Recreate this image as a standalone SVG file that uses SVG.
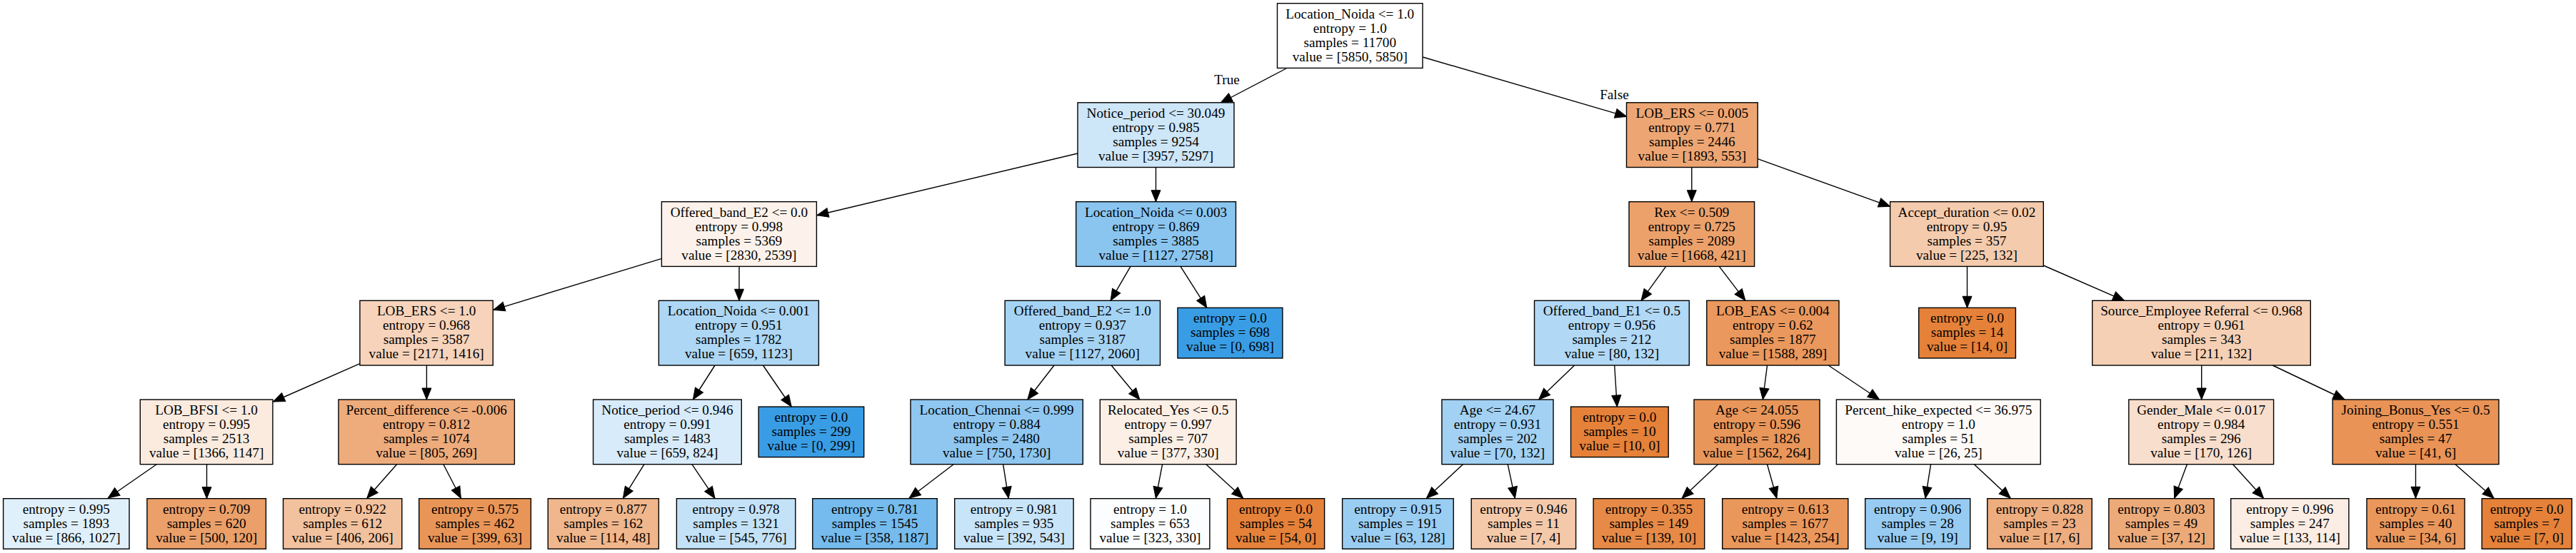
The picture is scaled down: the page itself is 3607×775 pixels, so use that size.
<svg xmlns="http://www.w3.org/2000/svg" width="3607" height="775" viewBox="0 0 3607 775">
<defs>
<style>
.box{stroke:#000;stroke-width:1.4}
.t{font-family:"Liberation Serif","Times New Roman",serif;font-size:19.2px;fill:#000;text-anchor:middle}
.edge{stroke:#000;stroke-width:1.4;fill:none;marker-end:url(#arr)}
</style>
<marker id="arr" markerUnits="userSpaceOnUse" markerWidth="18" markerHeight="15" viewBox="0 0 18 15" refX="17" refY="7.5" orient="auto">
<path d="M1,1 L17,7.5 L1,14 z" fill="#000" stroke="#000" stroke-width="1"/>
</marker>
</defs>
<rect x="0" y="0" width="3607" height="775" fill="#fff"/>
<g id="edges">
<line class="edge" x1="1801" y1="96" x2="1709.3" y2="144"/>
<line class="edge" x1="1992.3" y1="80" x2="2277.6" y2="163.3"/>
<line class="edge" x1="1509" y1="215" x2="1143.9" y2="301.7"/>
<line class="edge" x1="1618.5" y1="234.5" x2="1618.5" y2="282.7"/>
<line class="edge" x1="925.8" y1="362.7" x2="690.8" y2="434.3"/>
<line class="edge" x1="1035" y1="373.4" x2="1035" y2="421.3"/>
<line class="edge" x1="504.4" y1="509.3" x2="382.5" y2="563"/>
<line class="edge" x1="597.4" y1="512" x2="597.4" y2="560"/>
<line class="edge" x1="219.3" y1="650.7" x2="151.2" y2="698"/>
<line class="edge" x1="289.5" y1="650.7" x2="289.5" y2="698.7"/>
<line class="edge" x1="555.6" y1="650.7" x2="513.8" y2="698.3"/>
<line class="edge" x1="620.9" y1="650.7" x2="645.4" y2="698.3"/>
<line class="edge" x1="1001" y1="512" x2="970.4" y2="560"/>
<line class="edge" x1="1068.4" y1="512" x2="1108.2" y2="570"/>
<line class="edge" x1="902" y1="650.7" x2="872.4" y2="698.3"/>
<line class="edge" x1="968.9" y1="650.7" x2="1001" y2="698.3"/>
<line class="edge" x1="1583" y1="373.4" x2="1555.1" y2="421.3"/>
<line class="edge" x1="1653" y1="373.4" x2="1689.8" y2="431.3"/>
<line class="edge" x1="1476" y1="512" x2="1438.8" y2="560"/>
<line class="edge" x1="1556.1" y1="512" x2="1595.9" y2="560"/>
<line class="edge" x1="1335.2" y1="650.7" x2="1273" y2="698.3"/>
<line class="edge" x1="1404.6" y1="650.7" x2="1412.2" y2="698.3"/>
<line class="edge" x1="1627.6" y1="650.7" x2="1618.4" y2="698.3"/>
<line class="edge" x1="1688.8" y1="650.7" x2="1740.8" y2="698.3"/>
<line class="edge" x1="2368.8" y1="234.5" x2="2368.8" y2="282.7"/>
<line class="edge" x1="2461.2" y1="222.7" x2="2646.6" y2="289.3"/>
<line class="edge" x1="2332.7" y1="373.4" x2="2298" y2="421.3"/>
<line class="edge" x1="2407.3" y1="373.4" x2="2443.9" y2="421.3"/>
<line class="edge" x1="2204.6" y1="512" x2="2154.6" y2="560"/>
<line class="edge" x1="2260.7" y1="512" x2="2264.3" y2="570"/>
<line class="edge" x1="2048.5" y1="650.7" x2="1997.4" y2="698.3"/>
<line class="edge" x1="2111.2" y1="650.7" x2="2121.4" y2="698.3"/>
<line class="edge" x1="2474.5" y1="512" x2="2468.4" y2="560"/>
<line class="edge" x1="2560.2" y1="512" x2="2631.6" y2="560"/>
<line class="edge" x1="2405.6" y1="650.7" x2="2355.1" y2="698.3"/>
<line class="edge" x1="2474.5" y1="650.7" x2="2487.8" y2="698.3"/>
<line class="edge" x1="2703.6" y1="650.7" x2="2696" y2="698.3"/>
<line class="edge" x1="2764.3" y1="650.7" x2="2815.3" y2="698.3"/>
<line class="edge" x1="2754.5" y1="373.4" x2="2754.5" y2="431.3"/>
<line class="edge" x1="2861.3" y1="372" x2="2974.6" y2="421.3"/>
<line class="edge" x1="3082.7" y1="512" x2="3082.7" y2="560"/>
<line class="edge" x1="3182.2" y1="512" x2="3283.1" y2="560"/>
<line class="edge" x1="3062.4" y1="650.7" x2="3044.6" y2="698.3"/>
<line class="edge" x1="3126.6" y1="650.7" x2="3169.6" y2="698.3"/>
<line class="edge" x1="3382.5" y1="650.7" x2="3382.5" y2="698.3"/>
<line class="edge" x1="3438" y1="650.7" x2="3492.1" y2="698.3"/>
<text class="t" x="1718" y="117.5">True</text>
<text class="t" x="2260.4" y="138.5">False</text>
</g>

<g id="node0"><rect class="box" x="1788.5" y="4.7" width="203.5" height="90.7" fill="#ffffff"/>
<text class="t"><tspan x="1890.25" y="25.7">Location_Noida &lt;= 1.0</tspan><tspan x="1890.25" y="45.7">entropy = 1.0</tspan><tspan x="1890.25" y="65.7">samples = 11700</tspan><tspan x="1890.25" y="85.7">value = [5850, 5850]</tspan></text></g>

<g id="node1"><rect class="box" x="1509" y="143.8" width="219" height="90.7" fill="#cde6f8"/>
<text class="t"><tspan x="1618.5" y="164.8">Notice_period &lt;= 30.049</tspan><tspan x="1618.5" y="184.8">entropy = 0.985</tspan><tspan x="1618.5" y="204.8">samples = 9254</tspan><tspan x="1618.5" y="224.8">value = [3957, 5297]</tspan></text></g>

<g id="node2"><rect class="box" x="926.4" y="282.7" width="217" height="90.7" fill="#fcf2eb"/>
<text class="t"><tspan x="1034.9" y="303.7">Offered_band_E2 &lt;= 0.0</tspan><tspan x="1034.9" y="323.7">entropy = 0.998</tspan><tspan x="1034.9" y="343.7">samples = 5369</tspan><tspan x="1034.9" y="363.7">value = [2830, 2539]</tspan></text></g>

<g id="node3"><rect class="box" x="503.9" y="421.3" width="186.4" height="90.7" fill="#f6d3ba"/>
<text class="t"><tspan x="597.1" y="442.3">LOB_ERS &lt;= 1.0</tspan><tspan x="597.1" y="462.3">entropy = 0.968</tspan><tspan x="597.1" y="482.3">samples = 3587</tspan><tspan x="597.1" y="502.3">value = [2171, 1416]</tspan></text></g>

<g id="node4"><rect class="box" x="196.3" y="560" width="185.6" height="90.7" fill="#fbebdf"/>
<text class="t"><tspan x="289.1" y="581">LOB_BFSI &lt;= 1.0</tspan><tspan x="289.1" y="601">entropy = 0.995</tspan><tspan x="289.1" y="621">samples = 2513</tspan><tspan x="289.1" y="641">value = [1366, 1147]</tspan></text></g>

<g id="node5"><rect class="box" x="4.6" y="698.7" width="176.4" height="70.6" fill="#e0f0fb"/>
<text class="t"><tspan x="92.8" y="719.7">entropy = 0.995</tspan><tspan x="92.8" y="739.7">samples = 1893</tspan><tspan x="92.8" y="759.7">value = [866, 1027]</tspan></text></g>

<g id="node6"><rect class="box" x="205.9" y="698.7" width="166.5" height="70.6" fill="#eb9f69"/>
<text class="t"><tspan x="289.15" y="719.7">entropy = 0.709</tspan><tspan x="289.15" y="739.7">samples = 620</tspan><tspan x="289.15" y="759.7">value = [500, 120]</tspan></text></g>

<g id="node7"><rect class="box" x="474" y="560" width="246.4" height="90.7" fill="#eeab7b"/>
<text class="t"><tspan x="597.2" y="581">Percent_difference &lt;= -0.006</tspan><tspan x="597.2" y="601">entropy = 0.812</tspan><tspan x="597.2" y="621">samples = 1074</tspan><tspan x="597.2" y="641">value = [805, 269]</tspan></text></g>

<g id="node8"><rect class="box" x="396.5" y="698.7" width="166.3" height="70.6" fill="#f2c19d"/>
<text class="t"><tspan x="479.65" y="719.7">entropy = 0.922</tspan><tspan x="479.65" y="739.7">samples = 612</tspan><tspan x="479.65" y="759.7">value = [406, 206]</tspan></text></g>

<g id="node9"><rect class="box" x="586.7" y="698.7" width="156.7" height="70.6" fill="#e99558"/>
<text class="t"><tspan x="665.05" y="719.7">entropy = 0.575</tspan><tspan x="665.05" y="739.7">samples = 462</tspan><tspan x="665.05" y="759.7">value = [399, 63]</tspan></text></g>

<g id="node10"><rect class="box" x="922.4" y="421.3" width="224" height="90.7" fill="#add7f4"/>
<text class="t"><tspan x="1034.4" y="442.3">Location_Noida &lt;= 0.001</tspan><tspan x="1034.4" y="462.3">entropy = 0.951</tspan><tspan x="1034.4" y="482.3">samples = 1782</tspan><tspan x="1034.4" y="502.3">value = [659, 1123]</tspan></text></g>

<g id="node11"><rect class="box" x="830.6" y="560" width="207.7" height="90.7" fill="#d7ebfa"/>
<text class="t"><tspan x="934.45" y="581">Notice_period &lt;= 0.946</tspan><tspan x="934.45" y="601">entropy = 0.991</tspan><tspan x="934.45" y="621">samples = 1483</tspan><tspan x="934.45" y="641">value = [659, 824]</tspan></text></g>

<g id="node12"><rect class="box" x="767.3" y="698.7" width="155.1" height="70.6" fill="#f0b68c"/>
<text class="t"><tspan x="844.85" y="719.7">entropy = 0.877</tspan><tspan x="844.85" y="739.7">samples = 162</tspan><tspan x="844.85" y="759.7">value = [114, 48]</tspan></text></g>

<g id="node13"><rect class="box" x="947.4" y="698.7" width="166.4" height="70.6" fill="#c4e2f7"/>
<text class="t"><tspan x="1030.6" y="719.7">entropy = 0.978</tspan><tspan x="1030.6" y="739.7">samples = 1321</tspan><tspan x="1030.6" y="759.7">value = [545, 776]</tspan></text></g>

<g id="node14"><rect class="box" x="1062.2" y="570.05" width="147.5" height="70.6" fill="#399de5"/>
<text class="t"><tspan x="1135.95" y="591">entropy = 0.0</tspan><tspan x="1135.95" y="611">samples = 299</tspan><tspan x="1135.95" y="631">value = [0, 299]</tspan></text></g>

<g id="node15"><rect class="box" x="1506.7" y="282.7" width="223.8" height="90.7" fill="#8ac5f0"/>
<text class="t"><tspan x="1618.6" y="303.7">Location_Noida &lt;= 0.003</tspan><tspan x="1618.6" y="323.7">entropy = 0.869</tspan><tspan x="1618.6" y="343.7">samples = 3885</tspan><tspan x="1618.6" y="363.7">value = [1127, 2758]</tspan></text></g>

<g id="node16"><rect class="box" x="1407.1" y="421.3" width="217.4" height="90.7" fill="#a5d3f3"/>
<text class="t"><tspan x="1515.8" y="442.3">Offered_band_E2 &lt;= 1.0</tspan><tspan x="1515.8" y="462.3">entropy = 0.937</tspan><tspan x="1515.8" y="482.3">samples = 3187</tspan><tspan x="1515.8" y="502.3">value = [1127, 2060]</tspan></text></g>

<g id="node17"><rect class="box" x="1275" y="560" width="241.3" height="90.7" fill="#8fc7f0"/>
<text class="t"><tspan x="1395.65" y="581">Location_Chennai &lt;= 0.999</tspan><tspan x="1395.65" y="601">entropy = 0.884</tspan><tspan x="1395.65" y="621">samples = 2480</tspan><tspan x="1395.65" y="641">value = [750, 1730]</tspan></text></g>

<g id="node18"><rect class="box" x="1137.8" y="698.7" width="174.4" height="70.6" fill="#75bbed"/>
<text class="t"><tspan x="1225" y="719.7">entropy = 0.781</tspan><tspan x="1225" y="739.7">samples = 1545</tspan><tspan x="1225" y="759.7">value = [358, 1187]</tspan></text></g>

<g id="node19"><rect class="box" x="1336.7" y="698.7" width="166.4" height="70.6" fill="#c8e4f8"/>
<text class="t"><tspan x="1419.9" y="719.7">entropy = 0.981</tspan><tspan x="1419.9" y="739.7">samples = 935</tspan><tspan x="1419.9" y="759.7">value = [392, 543]</tspan></text></g>

<g id="node20"><rect class="box" x="1540.3" y="560" width="190.8" height="90.7" fill="#fcefe6"/>
<text class="t"><tspan x="1635.7" y="581">Relocated_Yes &lt;= 0.5</tspan><tspan x="1635.7" y="601">entropy = 0.997</tspan><tspan x="1635.7" y="621">samples = 707</tspan><tspan x="1635.7" y="641">value = [377, 330]</tspan></text></g>

<g id="node21"><rect class="box" x="1527" y="698.7" width="166.9" height="70.6" fill="#fbfdfe"/>
<text class="t"><tspan x="1610.45" y="719.7">entropy = 1.0</tspan><tspan x="1610.45" y="739.7">samples = 653</tspan><tspan x="1610.45" y="759.7">value = [323, 330]</tspan></text></g>

<g id="node22"><rect class="box" x="1718.4" y="698.7" width="136.2" height="70.6" fill="#e58139"/>
<text class="t"><tspan x="1786.5" y="719.7">entropy = 0.0</tspan><tspan x="1786.5" y="739.7">samples = 54</tspan><tspan x="1786.5" y="759.7">value = [54, 0]</tspan></text></g>

<g id="node23"><rect class="box" x="1649" y="431.35" width="146.9" height="70.6" fill="#399de5"/>
<text class="t"><tspan x="1722.45" y="452.3">entropy = 0.0</tspan><tspan x="1722.45" y="472.3">samples = 698</tspan><tspan x="1722.45" y="492.3">value = [0, 698]</tspan></text></g>

<g id="node24"><rect class="box" x="2277.5" y="143.8" width="183.7" height="90.7" fill="#eda673"/>
<text class="t"><tspan x="2369.35" y="164.8">LOB_ERS &lt;= 0.005</tspan><tspan x="2369.35" y="184.8">entropy = 0.771</tspan><tspan x="2369.35" y="204.8">samples = 2446</tspan><tspan x="2369.35" y="224.8">value = [1893, 553]</tspan></text></g>

<g id="node25"><rect class="box" x="2281" y="282.7" width="175.6" height="90.7" fill="#eca16b"/>
<text class="t"><tspan x="2368.8" y="303.7">Rex &lt;= 0.509</tspan><tspan x="2368.8" y="323.7">entropy = 0.725</tspan><tspan x="2368.8" y="343.7">samples = 2089</tspan><tspan x="2368.8" y="363.7">value = [1668, 421]</tspan></text></g>

<g id="node26"><rect class="box" x="2148.5" y="421.3" width="216.8" height="90.7" fill="#b1d8f5"/>
<text class="t"><tspan x="2256.9" y="442.3">Offered_band_E1 &lt;= 0.5</tspan><tspan x="2256.9" y="462.3">entropy = 0.956</tspan><tspan x="2256.9" y="482.3">samples = 212</tspan><tspan x="2256.9" y="502.3">value = [80, 132]</tspan></text></g>

<g id="node27"><rect class="box" x="2018.9" y="560" width="156.1" height="90.7" fill="#a2d1f3"/>
<text class="t"><tspan x="2096.95" y="581">Age &lt;= 24.67</tspan><tspan x="2096.95" y="601">entropy = 0.931</tspan><tspan x="2096.95" y="621">samples = 202</tspan><tspan x="2096.95" y="641">value = [70, 132]</tspan></text></g>

<g id="node28"><rect class="box" x="1879.6" y="698.7" width="155.6" height="70.6" fill="#9acdf2"/>
<text class="t"><tspan x="1957.4" y="719.7">entropy = 0.915</tspan><tspan x="1957.4" y="739.7">samples = 191</tspan><tspan x="1957.4" y="759.7">value = [63, 128]</tspan></text></g>

<g id="node29"><rect class="box" x="2060.2" y="698.7" width="146.4" height="70.6" fill="#f4c9aa"/>
<text class="t"><tspan x="2133.4" y="719.7">entropy = 0.946</tspan><tspan x="2133.4" y="739.7">samples = 11</tspan><tspan x="2133.4" y="759.7">value = [7, 4]</tspan></text></g>

<g id="node30"><rect class="box" x="2199.5" y="570.05" width="136.7" height="70.6" fill="#e58139"/>
<text class="t"><tspan x="2267.85" y="591">entropy = 0.0</tspan><tspan x="2267.85" y="611">samples = 10</tspan><tspan x="2267.85" y="631">value = [10, 0]</tspan></text></g>

<g id="node31"><rect class="box" x="2389.8" y="421.3" width="185.2" height="90.7" fill="#ea985d"/>
<text class="t"><tspan x="2482.4" y="442.3">LOB_EAS &lt;= 0.004</tspan><tspan x="2482.4" y="462.3">entropy = 0.62</tspan><tspan x="2482.4" y="482.3">samples = 1877</tspan><tspan x="2482.4" y="502.3">value = [1588, 289]</tspan></text></g>

<g id="node32"><rect class="box" x="2372" y="560" width="176" height="90.7" fill="#e9965a"/>
<text class="t"><tspan x="2460" y="581">Age &lt;= 24.055</tspan><tspan x="2460" y="601">entropy = 0.596</tspan><tspan x="2460" y="621">samples = 1826</tspan><tspan x="2460" y="641">value = [1562, 264]</tspan></text></g>

<g id="node33"><rect class="box" x="2231.1" y="698.7" width="155.6" height="70.6" fill="#e78a47"/>
<text class="t"><tspan x="2308.9" y="719.7">entropy = 0.355</tspan><tspan x="2308.9" y="739.7">samples = 149</tspan><tspan x="2308.9" y="759.7">value = [139, 10]</tspan></text></g>

<g id="node34"><rect class="box" x="2411.7" y="698.7" width="176.1" height="70.6" fill="#ea975c"/>
<text class="t"><tspan x="2499.75" y="719.7">entropy = 0.613</tspan><tspan x="2499.75" y="739.7">samples = 1677</tspan><tspan x="2499.75" y="759.7">value = [1423, 254]</tspan></text></g>

<g id="node35"><rect class="box" x="2571.4" y="560" width="285.8" height="90.7" fill="#fefaf7"/>
<text class="t"><tspan x="2714.3" y="581">Percent_hike_expected &lt;= 36.975</tspan><tspan x="2714.3" y="601">entropy = 1.0</tspan><tspan x="2714.3" y="621">samples = 51</tspan><tspan x="2714.3" y="641">value = [26, 25]</tspan></text></g>

<g id="node36"><rect class="box" x="2611.7" y="698.7" width="147" height="70.6" fill="#97cbf1"/>
<text class="t"><tspan x="2685.2" y="719.7">entropy = 0.906</tspan><tspan x="2685.2" y="739.7">samples = 28</tspan><tspan x="2685.2" y="759.7">value = [9, 19]</tspan></text></g>

<g id="node37"><rect class="box" x="2782.7" y="698.7" width="146.5" height="70.6" fill="#eead7f"/>
<text class="t"><tspan x="2855.95" y="719.7">entropy = 0.828</tspan><tspan x="2855.95" y="739.7">samples = 23</tspan><tspan x="2855.95" y="759.7">value = [17, 6]</tspan></text></g>

<g id="node38"><rect class="box" x="2646.6" y="282.7" width="214.7" height="90.7" fill="#f4cbad"/>
<text class="t"><tspan x="2753.95" y="303.7">Accept_duration &lt;= 0.02</tspan><tspan x="2753.95" y="323.7">entropy = 0.95</tspan><tspan x="2753.95" y="343.7">samples = 357</tspan><tspan x="2753.95" y="363.7">value = [225, 132]</tspan></text></g>

<g id="node39"><rect class="box" x="2686.7" y="431.35" width="135.7" height="70.6" fill="#e58139"/>
<text class="t"><tspan x="2754.55" y="452.3">entropy = 0.0</tspan><tspan x="2754.55" y="472.3">samples = 14</tspan><tspan x="2754.55" y="492.3">value = [14, 0]</tspan></text></g>

<g id="node40"><rect class="box" x="2929.7" y="421.3" width="305.6" height="90.7" fill="#f5d0b5"/>
<text class="t"><tspan x="3082.5" y="442.3">Source_Employee Referral &lt;= 0.968</tspan><tspan x="3082.5" y="462.3">entropy = 0.961</tspan><tspan x="3082.5" y="482.3">samples = 343</tspan><tspan x="3082.5" y="502.3">value = [211, 132]</tspan></text></g>

<g id="node41"><rect class="box" x="2980.8" y="560" width="202.8" height="90.7" fill="#f8decc"/>
<text class="t"><tspan x="3082.2" y="581">Gender_Male &lt;= 0.017</tspan><tspan x="3082.2" y="601">entropy = 0.984</tspan><tspan x="3082.2" y="621">samples = 296</tspan><tspan x="3082.2" y="641">value = [170, 126]</tspan></text></g>

<g id="node42"><rect class="box" x="2952.8" y="698.7" width="147.3" height="70.6" fill="#edaa79"/>
<text class="t"><tspan x="3026.45" y="719.7">entropy = 0.803</tspan><tspan x="3026.45" y="739.7">samples = 49</tspan><tspan x="3026.45" y="759.7">value = [37, 12]</tspan></text></g>

<g id="node43"><rect class="box" x="3123.7" y="698.7" width="165.2" height="70.6" fill="#fbede3"/>
<text class="t"><tspan x="3206.3" y="719.7">entropy = 0.996</tspan><tspan x="3206.3" y="739.7">samples = 247</tspan><tspan x="3206.3" y="759.7">value = [133, 114]</tspan></text></g>

<g id="node44"><rect class="box" x="3266.2" y="560" width="232.7" height="90.7" fill="#e99356"/>
<text class="t"><tspan x="3382.55" y="581">Joining_Bonus_Yes &lt;= 0.5</tspan><tspan x="3382.55" y="601">entropy = 0.551</tspan><tspan x="3382.55" y="621">samples = 47</tspan><tspan x="3382.55" y="641">value = [41, 6]</tspan></text></g>

<g id="node45"><rect class="box" x="3314" y="698.7" width="137.1" height="70.6" fill="#ea975c"/>
<text class="t"><tspan x="3382.55" y="719.7">entropy = 0.61</tspan><tspan x="3382.55" y="739.7">samples = 40</tspan><tspan x="3382.55" y="759.7">value = [34, 6]</tspan></text></g>

<g id="node46"><rect class="box" x="3475.2" y="698.7" width="126" height="70.6" fill="#e58139"/>
<text class="t"><tspan x="3538.2" y="719.7">entropy = 0.0</tspan><tspan x="3538.2" y="739.7">samples = 7</tspan><tspan x="3538.2" y="759.7">value = [7, 0]</tspan></text></g>
</svg>
